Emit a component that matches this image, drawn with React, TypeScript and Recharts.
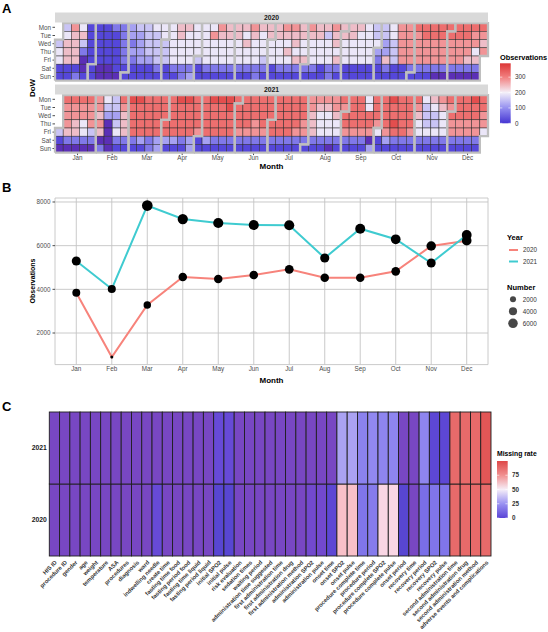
import React from "react";
import {
  ScatterChart,
  Scatter,
  XAxis,
  YAxis,
  ComposedChart,
  Line,
  CartesianGrid,
} from "recharts";

const MONTHS = ["Jan", "Feb", "Mar", "Apr", "May", "Jun", "Jul", "Aug", "Sep", "Oct", "Nov", "Dec"];
const DAYS = ["Mon", "Tue", "Wed", "Thu", "Fri", "Sat", "Sun"];

// daily observations, one char per day (grouped by calendar week), value = code * OBS_STEP
const OBS_STEP = 40;
const DAILY_2020 = [
  "45511 4566611 7666612 5642001 11111",
  "11 1111100 1111100 2111110 222221",
  "1 3323211 4333311 4444311 5444421 55",
  "44411 5555521 6655522 6555523 5555",
  "411 5555521 5755521 7655521 6655521",
  "6655521 6565521 7655522 6555421 66",
  "55511 6655521 7656521 7665621 66556",
  "21 7655521 6655511 6455522 7665621 6",
  "655511 6655511 6555511 5555511 445",
  "3211 4433621 5544411 7777711 777772",
  "1 8777721 8877721 8877720 8877720 8",
  "877720 8877720 8877620 8775620 8767",
];
const DAILY_2021 = [
  "410 8777620 8776620 8775520 8777420",
  "7767602 5430000 4434521 8766621",
  "9888821 9888831 8888822 8888833 888",
  "8831 8888831 9888821 9888833 88887",
  "11 8888831 9888821 9888821 9988821 8",
  "888721 8888721 8887721 8888721 888",
  "8821 8888821 8888821 8888721 888772",
  "1 7766621 7655521 7655520 7765521 87",
  "88721 8888721 8888721 5588703 8887",
  "511 8888731 9889821 8888821 8888721",
  "8765521 5444521 6544521 7655521 87",
  "87721 8887721 8887721 9887721 88775",
];

const MONTHLY_2020 = [3846, 900, 3283, 4565, 4473, 4657, 4918, 4533, 4533, 4826, 5985, 6228];
const MONTHLY_2021 = [5298, 4015, 7836, 7221, 7038, 6947, 6933, 5435, 6777, 6292, 5206, 6489];
const NUMBER_BREAKS = [2000, 4000, 6000];

const VARIABLES = [
  "HIS ID", "procedure ID", "gender", "age", "weight", "temperature", "ASA", "procedures",
  "diagnosis", "ward", "indwelling needle", "create time", "fasting time food",
  "fasting period food", "fasting time liquid", "fasting period liquid", "initial SPO2",
  "initial pulse", "risk evaluation", "sedation times", "waiting period",
  "administration time suggested", "first administration time", "first administration drug",
  "first administration method", "administration SPO2", "administration pulse", "onset time",
  "onset SPO2", "onset pulse", "procedure complete time", "procedure period",
  "procedure complete SPO2", "procedure complete pulse", "onset period", "recovery time",
  "recovery period", "recovery SPO2", "recovery pulse", "second administration time",
  "second administration drug", "second administration method", "adverse events and complications",
];
const MISSING_2021 = [
  0, 0, 0, 0, 0, 0, 0, 0, 0, 0, 0, 0, 0, 0, 0, 0, 3, 3, 0, 0, 0,
  0, 0, 0, 0, 0, 0, 0, 30, 30, 20, 22, 21, 21, 0, 0, 21, 5, 5, 88, 88, 88, 95,
];
const MISSING_2020 = [
  0, 0, 0, 0, 0, 0, 0, 0, 0, 0, 3, 0, 0, 0, 0, 0, 6, 6, 0, 0, 0,
  0, 0, 0, 0, 1, 1, 5, 60, 60, 16, 18, 53, 53, 6, 0, 14, 16, 16, 88, 88, 88, 88,
];

const FONT = '"Liberation Sans", Arial, Helvetica, sans-serif';
const COL_2020 = "#f7837b";
const COL_2021 = "#3fcbd0";

const OBS_SCALE: [number, string][] = [
  [0, "#5b2fb6"], [30, "#4a3bd6"], [100, "#9590f0"], [200, "#ebe6f8"], [300, "#f27f7f"], [390, "#dc3636"],
];
const OBS_LEGEND: [number, string][] = [
  [0, "#4535d2"], [100, "#9590f0"], [200, "#f4f0f9"], [300, "#f27f7f"], [390, "#dc3636"],
];
const MISS_SCALE: [number, string][] = [
  [0, "#7847c3"], [2, "#6c4bd8"], [6, "#5846d2"], [14, "#7a6ee8"], [22, "#9188f0"],
  [30, "#aaa2f2"], [50, "#f6eef8"], [53, "#f9d6e4"], [60, "#f8c0c8"], [75, "#f19090"],
  [88, "#e86a6a"], [100, "#de4848"],
];
const MISS_LEGEND: [number, string][] = [
  [0, "#5a44d6"], [25, "#9a92f2"], [50, "#f6eef8"], [75, "#f19090"], [100, "#de4848"],
];

function hexRgb(h: string) {
  return [1, 3, 5].map((i) => parseInt(h.slice(i, i + 2), 16));
}
function scaleColor(anchors: [number, string][], v: number) {
  if (v <= anchors[0][0]) return anchors[0][1];
  for (let i = 1; i < anchors.length; i++) {
    if (v <= anchors[i][0]) {
      const t = (v - anchors[i - 1][0]) / (anchors[i][0] - anchors[i - 1][0]);
      const a = hexRgb(anchors[i - 1][1]);
      const b = hexRgb(anchors[i][1]);
      const c = a.map((x, k) => Math.round(x + (b[k] - x) * t));
      return `rgb(${c[0]},${c[1]},${c[2]})`;
    }
  }
  return anchors[anchors.length - 1][1];
}

// calendar helpers (weeks start on Monday)
const DAY_MS = 86400000;
const weekdayOf = (y: number, m: number, d: number) => (new Date(Date.UTC(y, m, d)).getUTCDay() + 6) % 7;
const weekOf = (y: number, m: number, d: number) =>
  Math.floor(((Date.UTC(y, m, d) - Date.UTC(y, 0, 1)) / DAY_MS + weekdayOf(y, 0, 1)) / 7);
const daysIn = (y: number, m: number) => new Date(Date.UTC(y, m + 1, 0)).getUTCDate();

function buildCells(year: number, daily: string[]) {
  const cells: { x: number; y: number; v: number }[] = [];
  daily.forEach((s, m) => {
    const codes = s.replace(/\s/g, "");
    for (let d = 1; d <= daysIn(year, m); d++) {
      cells.push({ x: weekOf(year, m, d), y: weekdayOf(year, m, d), v: Number(codes[d - 1] ?? 0) * OBS_STEP });
    }
  });
  return cells;
}

function monthOutline(year: number, m: number) {
  const last = daysIn(year, m);
  const w1 = weekOf(year, m, 1), d1 = weekdayOf(year, m, 1);
  const w2 = weekOf(year, m, last), d2 = weekdayOf(year, m, last);
  return [
    { x: w1 - 0.5, y: 6.5 }, { x: w1 - 0.5, y: d1 - 0.5 }, { x: w1 + 0.5, y: d1 - 0.5 },
    { x: w1 + 0.5, y: -0.5 }, { x: w2 + 0.5, y: -0.5 }, { x: w2 + 0.5, y: d2 + 0.5 },
    { x: w2 - 0.5, y: d2 + 0.5 }, { x: w2 - 0.5, y: 6.5 }, { x: w1 - 0.5, y: 6.5 },
  ];
}

function monthTicks(year: number) {
  return MONTHS.map((_, m) => {
    let s = 0;
    const n = daysIn(year, m);
    for (let d = 1; d <= n; d++) s += weekOf(year, m, d);
    return s / n;
  });
}

const A_LEFT = 55;
const A_RIGHT = 488;

function CalendarFacet({ year, daily, plotTop, plotBottom, height, showAxis }: {
  year: number; daily: string[]; plotTop: number; plotBottom: number; height: number; showAxis: boolean;
}) {
  const cells = buildCells(year, daily);
  const ticks = monthTicks(year);
  const cw = (A_RIGHT - A_LEFT) / 53;
  const ch = (plotBottom - plotTop) / 7;
  const xh = showAxis ? 14 : 0;
  return (
    <div style={{ position: "absolute", left: 0, top: 0 }}>
      <ScatterChart
        width={548}
        height={height}
        margin={{ top: plotTop, right: 548 - A_RIGHT, bottom: height - plotBottom - xh, left: A_LEFT - 35 }}
      >
        <XAxis
          type="number"
          dataKey="x"
          domain={[-0.5, 52.5]}
          ticks={ticks}
          interval={0}
          hide={!showAxis}
          height={14}
          tickFormatter={(_: number, i: number) => MONTHS[i]}
          axisLine={false}
          tickSize={2.5}
          tickMargin={0.5}
          tickLine={{ stroke: "#4d4d4d" }}
          tick={{ fontSize: 6.3, fill: "#4d4d4d", fontFamily: FONT }}
        />
        <YAxis
          type="number"
          dataKey="y"
          domain={[-0.5, 6.5]}
          reversed
          ticks={[0, 1, 2, 3, 4, 5, 6]}
          interval={0}
          width={35}
          tickFormatter={(v: number) => DAYS[v]}
          axisLine={false}
          tickSize={2.5}
          tickMargin={1.5}
          tickLine={{ stroke: "#4d4d4d" }}
          tick={{ fontSize: 6.3, fill: "#4d4d4d", fontFamily: FONT }}
        />
        <Scatter
          data={cells}
          isAnimationActive={false}
          shape={(p: any) => (
            <rect
              x={p.cx - cw / 2}
              y={p.cy - ch / 2}
              width={cw}
              height={ch}
              fill={scaleColor(OBS_SCALE, p.payload.v)}
              stroke="#2a2a2a"
              strokeWidth={0.5}
            />
          )}
        />
        {MONTHS.map((_, m) => (
          <Scatter
            key={m}
            data={monthOutline(year, m)}
            isAnimationActive={false}
            fill="#bebebe"
            line={{ stroke: "#bebebe", strokeWidth: 2.3 }}
            shape={() => <g />}
          />
        ))}
      </ScatterChart>
    </div>
  );
}

const monthly = MONTHS.map((name, i) => ({ m: i + 1, name, y2020: MONTHLY_2020[i], y2021: MONTHLY_2021[i] }));
const allMonthly = [...MONTHLY_2020, ...MONTHLY_2021];
const N_MIN = Math.min(...allMonthly);
const N_MAX = Math.max(...allMonthly);
const dotR = (v: number) => 1.5 + 3.8 * Math.sqrt(Math.max(0, (v - N_MIN) / (N_MAX - N_MIN)));

function MonthlyChart() {
  const dot = (key: "y2020" | "y2021") => (p: any) => (
    <circle cx={p.cx} cy={p.cy} r={dotR(p.payload?.[key] ?? 0)} fill="#000" />
  );
  return (
    <div style={{ position: "absolute", left: 0, top: 180 }}>
      <ComposedChart width={548} height={210} data={monthly} margin={{ top: 18, right: 60, bottom: 11.4, left: 20 }}>
        <CartesianGrid stroke="#c4c4c4" strokeWidth={0.9} />
        <XAxis
          dataKey="m"
          type="number"
          domain={[0.4, 12.6]}
          ticks={[1, 2, 3, 4, 5, 6, 7, 8, 9, 10, 11, 12]}
          interval={0}
          tickFormatter={(v: number) => MONTHS[v - 1]}
          height={14}
          axisLine={false}
          tickLine={false}
          tickSize={0}
          tickMargin={1.5}
          tick={{ fontSize: 6.3, fill: "#4d4d4d", fontFamily: FONT }}
        />
        <YAxis
          type="number"
          domain={[553, 8183]}
          ticks={[2000, 4000, 6000, 8000]}
          interval={0}
          width={35}
          axisLine={false}
          tickSize={2.5}
          tickMargin={2}
          tickLine={{ stroke: "#4d4d4d" }}
          tick={{ fontSize: 6.3, fill: "#4d4d4d", fontFamily: FONT }}
        />
        <Line type="linear" dataKey="y2020" stroke={COL_2020} strokeWidth={2} dot={false} isAnimationActive={false} />
        <Line type="linear" dataKey="y2021" stroke={COL_2021} strokeWidth={2} dot={false} isAnimationActive={false} />
        <Scatter dataKey="y2020" isAnimationActive={false} shape={dot("y2020")} />
        <Scatter dataKey="y2021" isAnimationActive={false} shape={dot("y2021")} />
      </ComposedChart>
    </div>
  );
}

const missingCells = [
  ...MISSING_2020.map((v, i) => ({ x: i, y: 0, v })),
  ...MISSING_2021.map((v, i) => ({ x: i, y: 1, v })),
];

function VarTick(p: any) {
  const { x, y, payload } = p;
  return (
    <text
      x={x}
      y={y}
      transform={`rotate(-45 ${x} ${y})`}
      textAnchor="end"
      dy="0.7em"
      fontSize={5.8}
      fontWeight="bold"
      fill="#333"
      fontFamily={FONT}
    >
      {VARIABLES[payload.value]}
    </text>
  );
}

function MissingChart() {
  const cw = (491 - 49.3) / VARIABLES.length;
  const ch = 72;
  return (
    <div style={{ position: "absolute", left: 0, top: 400 }}>
      <ScatterChart width={548} height={232} margin={{ top: 12, right: 57, bottom: 0, left: 10 }}>
        <XAxis
          type="number"
          dataKey="x"
          domain={[-0.5, VARIABLES.length - 0.5]}
          ticks={VARIABLES.map((_, i) => i)}
          interval={0}
          height={76}
          axisLine={false}
          tickLine={false}
          tickSize={3}
          tickMargin={1}
          tick={(p: any) => <VarTick {...p} />}
        />
        <YAxis
          type="number"
          dataKey="y"
          domain={[-0.5, 1.5]}
          ticks={[0, 1]}
          interval={0}
          width={39.3}
          tickFormatter={(v: number) => (v === 1 ? "2021" : "2020")}
          axisLine={false}
          tickLine={false}
          tickSize={0}
          tickMargin={2.5}
          tick={{ fontSize: 6.8, fontWeight: "bold", fill: "#1a1a1a", fontFamily: FONT }}
        />
        <Scatter
          data={missingCells}
          isAnimationActive={false}
          shape={(p: any) => (
            <rect
              x={p.cx - cw / 2}
              y={p.cy - ch / 2}
              width={cw}
              height={ch}
              fill={scaleColor(MISS_SCALE, p.payload.v)}
              stroke="#1f1f1f"
              strokeWidth={0.9}
            />
          )}
        />
      </ScatterChart>
    </div>
  );
}

function Overlay() {
  const t = { fontFamily: FONT } as const;
  return (
    <svg width={548} height={632} style={{ position: "absolute", left: 0, top: 0, pointerEvents: "none" }}>
      <defs>
        <linearGradient id="obsGrad" x1="0" y1="1" x2="0" y2="0">
          {OBS_LEGEND.map(([v, c]) => (
            <stop key={v} offset={v / 390} stopColor={c} />
          ))}
        </linearGradient>
        <linearGradient id="missGrad" x1="0" y1="1" x2="0" y2="0">
          {MISS_LEGEND.map(([v, c]) => (
            <stop key={v} offset={v / 100} stopColor={c} />
          ))}
        </linearGradient>
      </defs>

      {/* panel A */}
      <text x={2} y={13} fontSize={13} fontWeight="bold" {...t}>A</text>
      <rect x={A_LEFT} y={12.5} width={A_RIGHT - A_LEFT} height={10} fill="#d9d9d9" />
      <text x={271.5} y={20.2} fontSize={6.8} fontWeight="bold" textAnchor="middle" fill="#1a1a1a" {...t}>2020</text>
      <rect x={A_LEFT} y={84.5} width={A_RIGHT - A_LEFT} height={10} fill="#d9d9d9" />
      <text x={271.5} y={92.2} fontSize={6.8} fontWeight="bold" textAnchor="middle" fill="#1a1a1a" {...t}>2021</text>
      <text x={271.5} y={169} fontSize={8} fontWeight="bold" textAnchor="middle" {...t}>Month</text>
      <text x={35} y={88} transform="rotate(-90 35 88)" fontSize={8} fontWeight="bold" textAnchor="middle" {...t}>DoW</text>
      <text x={500} y={59.5} fontSize={7.4} fontWeight="bold" {...t}>Observations</text>
      <rect x={500} y={63.3} width={10.7} height={60} fill="url(#obsGrad)" />
      {[0, 100, 200, 300].map((v) => {
        const y = 123.3 - (v / 390) * 60;
        return (
          <g key={v}>
            <line x1={500} x2={502.3} y1={y} y2={y} stroke="#fff" strokeWidth={0.6} />
            <line x1={508.4} x2={510.7} y1={y} y2={y} stroke="#fff" strokeWidth={0.6} />
            <text x={515} y={y + 2.2} fontSize={6.3} fill="#333" {...t}>{v}</text>
          </g>
        );
      })}

      {/* panel B */}
      <text x={2} y={192} fontSize={13} fontWeight="bold" {...t}>B</text>
      <text x={34.5} y={281} transform="rotate(-90 34.5 281)" fontSize={7} fontWeight="bold" textAnchor="middle" {...t}>Observations</text>
      <text x={271.5} y={383} fontSize={8} fontWeight="bold" textAnchor="middle" {...t}>Month</text>
      <text x={507} y={239.5} fontSize={7.5} fontWeight="bold" {...t}>Year</text>
      <line x1={509} x2={518} y1={250} y2={250} stroke={COL_2020} strokeWidth={2} />
      <text x={523} y={252.3} fontSize={6.3} fill="#333" {...t}>2020</text>
      <line x1={509} x2={518} y1={261.5} y2={261.5} stroke={COL_2021} strokeWidth={2} />
      <text x={523} y={263.8} fontSize={6.3} fill="#333" {...t}>2021</text>
      <text x={507} y={289.5} fontSize={7.5} fontWeight="bold" {...t}>Number</text>
      {NUMBER_BREAKS.map((v, i) => (
        <g key={v}>
          <circle cx={513} cy={299.3 + i * 12} r={dotR(v)} fill="#474747" />
          <text x={522.7} y={301.5 + i * 12} fontSize={6.3} fill="#333" {...t}>{v}</text>
        </g>
      ))}

      {/* panel C */}
      <text x={2} y={411} fontSize={13} fontWeight="bold" {...t}>C</text>
      <text x={497} y={456} fontSize={6.8} fontWeight="bold" {...t}>Missing rate</text>
      <rect x={497} y={461} width={10.7} height={57} fill="url(#missGrad)" />
      {[0, 25, 50, 75].map((v) => {
        const y = 518 - (v / 100) * 57;
        return (
          <g key={v}>
            <line x1={497} x2={499.3} y1={y} y2={y} stroke="#fff" strokeWidth={0.6} />
            <line x1={505.4} x2={507.7} y1={y} y2={y} stroke="#fff" strokeWidth={0.6} />
            <text x={512} y={y + 2.2} fontSize={6.3} fontWeight="bold" fill="#333" {...t}>{v}</text>
          </g>
        );
      })}
    </svg>
  );
}

export default function App() {
  return (
    <div style={{ position: "absolute", left: 0, top: 0, width: 548, height: 632, background: "#fff", overflow: "hidden", fontFamily: FONT }}>
      <CalendarFacet year={2020} daily={DAILY_2020} plotTop={23.2} plotBottom={80.6} height={84} showAxis={false} />
      <CalendarFacet year={2021} daily={DAILY_2021} plotTop={95.2} plotBottom={152.6} height={175} showAxis />
      <MonthlyChart />
      <MissingChart />
      <Overlay />
    </div>
  );
}
